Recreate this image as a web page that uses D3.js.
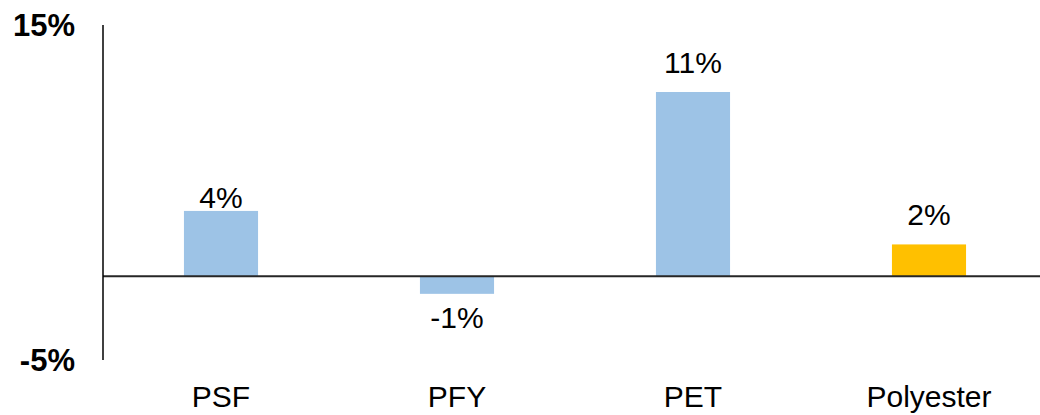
<!DOCTYPE html>
<html>
<head>
<meta charset="utf-8">
<script src="https://cdn.jsdelivr.net/npm/d3@7"></script>
<style>
  body { margin: 0; background: #fff; }
  text { font-family: Arial, "Liberation Sans", sans-serif; }
</style>
</head>
<body>
<div id="chart"></div>
<script>
// data
var categories = ["PSF", "PFY", "PET", "Polyester"];
var values = [3.9, -1.05, 11.0, 1.9];
var valueLabels = ["4%", "-1%", "11%", "2%"];
var barColors = ["#9DC3E6", "#9DC3E6", "#9DC3E6", "#FFC000"];
var yTicks = [-5, 15];

var svgWidth = 1040;
var svgHeight = 415;

var svg = d3.select("#chart")
  .append("svg")
  .attr("width", svgWidth)
  .attr("height", svgHeight);

var xScale = d3.scaleBand()
  .domain(categories)
  .range([103, 1047])
  .paddingInner(0.686)
  .paddingOuter(0.343);

var yScale = d3.scaleLinear()
  .domain([-5, 15])
  .range([360, 25]);

// bars
svg.selectAll(".bar")
  .data(values)
  .enter()
  .append("rect")
  .attr("class", "bar")
  .attr("x", (d, i) => xScale(categories[i]))
  .attr("width", xScale.bandwidth())
  .attr("y", d => yScale(Math.max(0, d)))
  .attr("height", d => Math.abs(yScale(d) - yScale(0)))
  .attr("fill", (d, i) => barColors[i]);

// zero line
svg.append("line")
  .attr("x1", 103)
  .attr("x2", svgWidth)
  .attr("y1", yScale(0))
  .attr("y2", yScale(0))
  .attr("stroke", "#262626")
  .attr("stroke-width", 1.8);

// y axis line
svg.append("line")
  .attr("x1", 103)
  .attr("x2", 103)
  .attr("y1", yScale(15))
  .attr("y2", yScale(-5))
  .attr("stroke", "#000")
  .attr("stroke-width", 1.5);

// y tick labels (only ends shown)
svg.selectAll(".ytick")
  .data(yTicks)
  .enter()
  .append("text")
  .attr("x", 75)
  .attr("y", d => yScale(d) + 11)
  .attr("text-anchor", "end")
  .attr("font-size", 31)
  .attr("font-weight", "bold")
  .text(d => d + "%");

// category labels
svg.selectAll(".cat")
  .data(categories)
  .enter()
  .append("text")
  .attr("x", d => xScale(d) + xScale.bandwidth() / 2)
  .attr("y", 407)
  .attr("text-anchor", "middle")
  .attr("font-size", 30)
  .text(d => d);

// value labels; the PSF label sits tight on its bar in the original
var labelGap = [3, 34, 19, 19];
svg.selectAll(".val")
  .data(values)
  .enter()
  .append("text")
  .attr("x", (d, i) => xScale(categories[i]) + xScale.bandwidth() / 2)
  .attr("y", (d, i) => d >= 0 ? yScale(d) - labelGap[i] : yScale(d) + labelGap[i])
  .attr("text-anchor", "middle")
  .attr("font-size", 30)
  .text((d, i) => valueLabels[i]);
</script>
</body>
</html>
